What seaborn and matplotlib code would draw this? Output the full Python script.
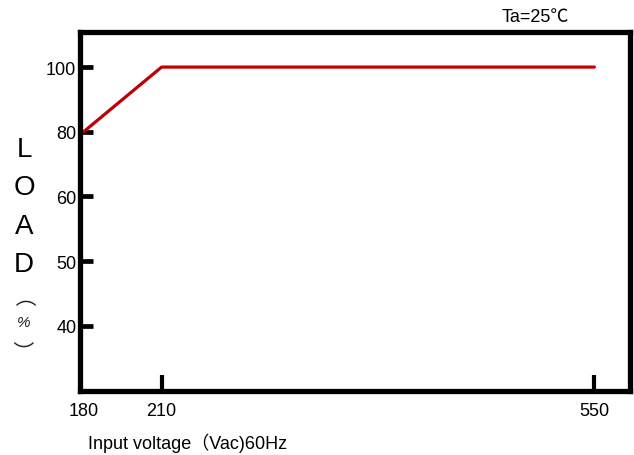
import numpy as np
import pandas as pd
import matplotlib
matplotlib.use("Agg")
import matplotlib.pyplot as plt
import seaborn as sns

sns.set_theme(style="white")
plt.rcParams['font.family'] = ['Liberation Sans', 'Noto Sans CJK SC', 'DejaVu Sans']

# Data
voltage = [180, 210, 550]
load = [80, 100, 100]

# Axis ticks (both axes are drawn with uneven spacing)
x_ticks = [180, 210, 550]
x_tick_pos = [0, 1, 6.55]
y_ticks = [40, 50, 60, 80, 100]
y_tick_pos = [0, 1, 2, 3, 4]

line_color = '#C00000'


def piecewise_scale(vals, pos):
    vals = np.asarray(vals, float)
    pos = np.asarray(pos, float)

    def fwd(v):
        v = np.asarray(v, float)
        out = np.interp(v, vals, pos)
        lo_slope = (pos[1] - pos[0]) / (vals[1] - vals[0])
        hi_slope = (pos[-1] - pos[-2]) / (vals[-1] - vals[-2])
        out = np.where(v < vals[0], pos[0] + (v - vals[0]) * lo_slope, out)
        out = np.where(v > vals[-1], pos[-1] + (v - vals[-1]) * hi_slope, out)
        return out

    def inv(p):
        p = np.asarray(p, float)
        out = np.interp(p, pos, vals)
        lo_slope = (vals[1] - vals[0]) / (pos[1] - pos[0])
        hi_slope = (vals[-1] - vals[-2]) / (pos[-1] - pos[-2])
        out = np.where(p < pos[0], vals[0] + (p - pos[0]) * lo_slope, out)
        out = np.where(p > pos[-1], vals[-1] + (p - pos[-1]) * hi_slope, out)
        return out

    return fwd, inv


df = pd.DataFrame({"voltage": voltage, "load": load})

fig = plt.figure(figsize=(6.34, 4.56), dpi=100)
ax = fig.add_axes([80.5 / 634, 1 - 391.5 / 456, (630 - 80.5) / 634, (391.5 - 32.5) / 456])

ax.set_xscale('function', functions=piecewise_scale(x_ticks, x_tick_pos))
ax.set_yscale('function', functions=piecewise_scale(y_ticks, y_tick_pos))

sns.lineplot(data=df, x="voltage", y="load", color=line_color, linewidth=2.3, ax=ax)

ax.set_xlim(178.8, 578)
ax.set_ylim(30, 111)
ax.set_xticks(x_ticks)
ax.set_xticklabels([str(v) for v in x_ticks])
ax.set_yticks(y_ticks)
ax.set_yticklabels([str(v) for v in y_ticks])
ax.minorticks_off()

for side in ['left', 'right', 'top', 'bottom']:
    ax.spines[side].set_visible(True)
    ax.spines[side].set_color('black')
    ax.spines[side].set_linewidth(3.8)

ax.tick_params(axis='y', direction='in', length=9, width=3.4, color='black',
               labelsize=13, labelcolor='black', pad=3, left=True)
ax.tick_params(axis='x', direction='in', length=11.5, width=3, color='black',
               labelsize=13, labelcolor='black', pad=8, bottom=True)
# the 180 tick sits under the left frame line
ax.xaxis.get_major_ticks()[0].tick1line.set_visible(False)
ax.set_xlabel("")
ax.set_ylabel("")
ax.grid(False)

# Vertical stacked y label
cjk = ['Noto Sans CJK SC', 'DejaVu Sans']
letters = [("L", 150), ("O", 188), ("A", 227), ("D", 265)]
for ch, ypix in letters:
    fig.text(24 / 634, 1 - ypix / 456, ch, ha='center', va='center', fontsize=20,
             color='black')
# brackets of "(%)" turned sideways
fig.text(28 / 634, 1 - 296 / 456, "）", ha='center', va='center', fontsize=15,
         rotation=90, family=cjk, color='#222222')
fig.text(24 / 634, 1 - 323 / 456, "%", ha='center', va='center', fontsize=11,
         style='italic', color='#222222')
fig.text(20 / 634, 1 - 350 / 456, "）", ha='center', va='center', fontsize=15,
         rotation=-90, family=cjk, color='#222222')

fig.text(535 / 634, 1 - 18 / 456, "Ta=25℃", ha='center', va='center', fontsize=13,
         color='black')
fig.text(88 / 634, 1 - 443 / 456, "Input voltage（Vac)60Hz", ha='left', va='center',
         fontsize=13, color='black')

plt.savefig("out.png", dpi=100)
